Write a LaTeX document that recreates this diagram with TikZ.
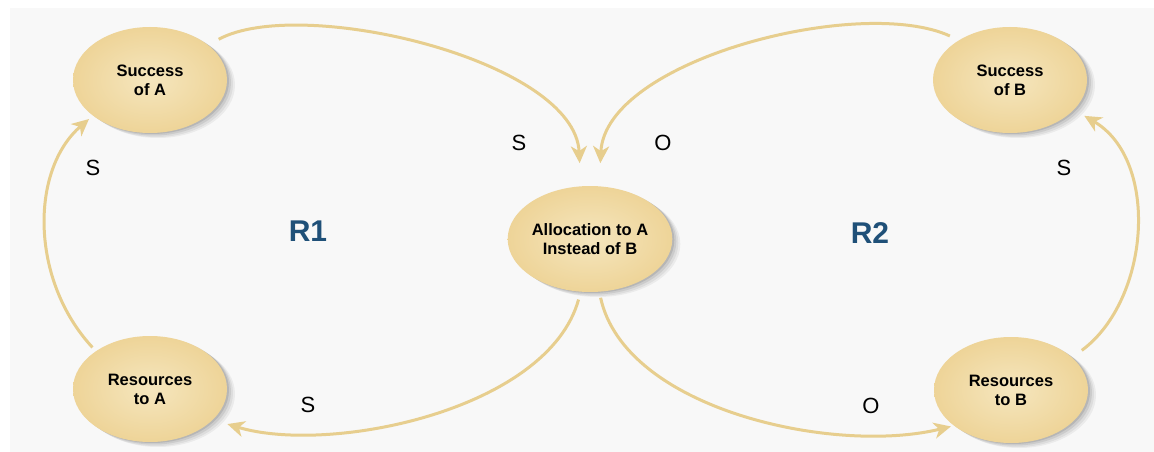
\documentclass[tikz,border=0pt]{standalone}
\usepackage{fontspec}
\setmainfont{Liberation Sans}
\usetikzlibrary{shapes.geometric,arrows.meta}
\definecolor{arcc}{RGB}{231,206,142}
\definecolor{ellin}{RGB}{245,230,190}
\definecolor{ellout}{RGB}{238,212,152}
\definecolor{rblue}{RGB}{31,80,120}
\definecolor{panel}{RGB}{248,248,248}
\begin{document}
\begin{tikzpicture}[x=1pt,y=-1pt,
  loopnode/.style={ellipse, minimum width=154pt, minimum height=106pt, inner sep=0pt,
    align=center, inner color=ellin, outer color=ellout,
    font=\bfseries\fontsize{16.5}{19}\selectfont,
    preaction={fill=black, fill opacity=0.05, transform canvas={shift={(8pt,-5pt)}}},
    preaction={fill=black, fill opacity=0.06, transform canvas={shift={(6pt,-4pt)}}},
    preaction={fill=black, fill opacity=0.08, transform canvas={shift={(4pt,-2.5pt)}}},
    preaction={fill=black, fill opacity=0.10, transform canvas={shift={(2pt,-1pt)}}}},
  link/.style={draw=arcc, line width=3pt, -{Stealth[length=17pt,width=16pt,inset=5pt]}},
  pol/.style={font=\fontsize{22}{24}\selectfont},
  looplabel/.style={font=\bfseries\fontsize{30}{32}\selectfont, text=rblue}]
\useasboundingbox (0,0) rectangle (1154,452);
\fill[panel] (10,8) rectangle (1154,452);

\node[loopnode] (sa) at (150,80) {Success\\of A};
\node[loopnode] (ra) at (150,389) {Resources\\to A};
\node[loopnode] (sb) at (1010,80) {Success\\of B};
\node[loopnode] (rb) at (1011,390) {Resources\\to B};
\node[loopnode] (al) at (590,239) {Allocation to A\\Instead of B};

\draw[link, shorten <=12pt, shorten >=23pt] (sa.31) .. controls (300,-5) and (575,60) .. (al.100);
\draw[link, shorten <=10pt, shorten >=23pt] (sb.142) .. controls (860,-5) and (605,60) .. (al.80);
\draw[link, shorten <=8pt, shorten >=15pt] (al.-100) .. controls (548,410) and (330,455) .. (ra.-26);
\draw[link, shorten <=6pt, shorten >=3pt] (al.-80) .. controls (625,410) and (835,455) .. (rb.-148);
\draw[link, shorten <=5pt, shorten >=5pt] (ra.145) .. controls (30,280) and (30,170) .. (sa.-148);
\draw[link, shorten <=12pt, shorten >=12pt] (rb.28) .. controls (1150,300) and (1160,160) .. (sb.-25);

\node[pol] (l1) at (519,143) {S};
\node[pol] (l2) at (663,143) {O};
\node[pol] (l3) at (93,168) {S};
\node[pol] (l4) at (1064,168) {S};
\node[pol] (l5) at (308,405) {S};
\node[pol] (l6) at (871,406) {O};

\node[looplabel] (r1) at (308,231) {R1};
\node[looplabel] (r2) at (870,233) {R2};
\end{tikzpicture}
\end{document}
